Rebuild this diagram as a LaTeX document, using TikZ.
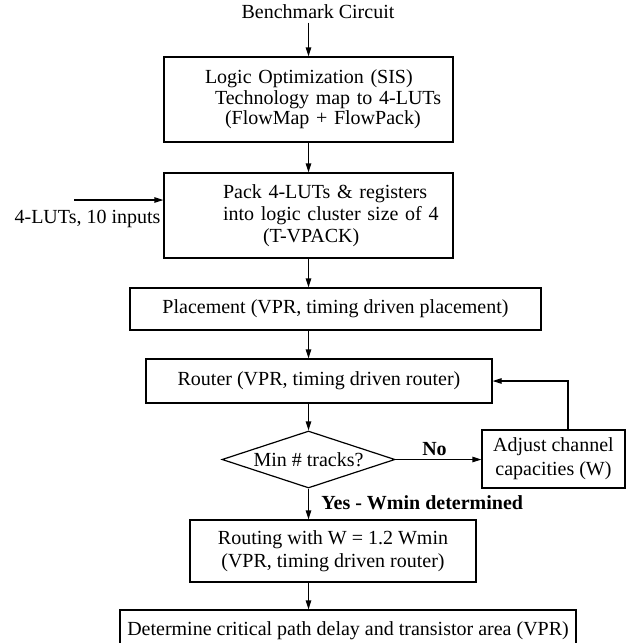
\documentclass[tikz,border=0pt]{standalone}
\usepackage{fontspec}
\setmainfont{Liberation Serif}
\usepackage{tikz}
\usetikzlibrary{shapes.geometric, arrows.meta, positioning}

\begin{document}
\begin{tikzpicture}[
    x=1pt, y=-1pt,
    every node/.style={font=\fontsize{20}{20.5}\selectfont},
    box/.style={rectangle, draw, line width=1.2pt, align=center, inner sep=5pt},
    decision/.style={diamond, draw, line width=1.2pt, aspect=3, inner sep=0pt},
    arrow/.style={-{Triangle[length=9pt, width=5.5pt]}, line width=1.2pt},
    lbl/.style={font=\fontsize{20}{20.5}\selectfont\bfseries}
]
\useasboundingbox (0,0) rectangle (633,643);

\node (bench) at (318,12) {Benchmark Circuit};
\node[box, minimum width=289pt, minimum height=85pt, text width=279pt, align=left] (logic) at (308.5,99.5)
    {\hspace*{36pt}Logic Optimization (SIS)\\ \hspace*{46pt}Technology map to 4-LUTs\\ \hspace*{56pt}(FlowMap + FlowPack)\\[-6pt]};
\node[box, minimum width=289pt, minimum height=85pt, text width=279pt, align=left,
      font=\fontsize{20}{22}\selectfont] (pack) at (308.5,215.5)
    {\hspace*{54pt}Pack 4-LUTs \& registers\\ \hspace*{54pt}into logic cluster size of 4\\ \hspace*{94pt}(T-VPACK)};
\node[box, minimum width=411pt, minimum height=42pt] (place) at (335.5,309)
    {Placement (VPR, timing driven placement)};
\node[box, minimum width=346pt, minimum height=44pt] (route) at (319,381)
    {Router (VPR, timing driven router)};
\node[decision, minimum width=173pt, minimum height=57pt] (mintr) at (308.5,459.5)
    {Min \# tracks?};
\node[box, minimum width=143pt, minimum height=58pt, font=\fontsize{20}{24}\selectfont] (adjust) at (553.5,459)
    {Adjust channel\\capacities (W)};
\node[box, minimum width=286pt, minimum height=62pt, font=\fontsize{20}{23}\selectfont] (routing) at (333,551)
    {Routing with W = 1.2 Wmin\\(VPR, timing driven router)};
\node[box, minimum width=456pt, minimum height=42pt] (crit) at (348,631)
    {Determine critical path delay and transistor area (VPR)};

\node (lutin) at (87.5,219) {4-LUTs, 10 inputs};
\coordinate (lutsrc) at (74,200);

% main flow
\draw[arrow] (logic.north |- bench.south) -- (logic.north);
\draw[arrow] (logic) -- (pack);
\draw[arrow] (pack.south) -- (pack.south |- place.north);
\draw[arrow] (pack.south |- place.south) -- (pack.south |- route.north);
\draw[arrow] (mintr.north |- route.south) -- (mintr.north);
\draw[arrow] (mintr.south) -- node[lbl, pos=0.45, right=9pt] {Yes - Wmin determined} (mintr.south |- routing.north);
\draw[arrow] (mintr.south |- routing.south) -- (mintr.south |- crit.north);

% side inputs and loop
\draw[arrow] (lutsrc) -- (lutsrc -| pack.west);
\draw[arrow] (mintr.east) -- node[lbl, above, xshift=-4pt] {No} (adjust.west |- mintr.east);
\draw[arrow] ([xshift=14.5pt]adjust.north) |- (route.east);
\end{tikzpicture}
\end{document}
